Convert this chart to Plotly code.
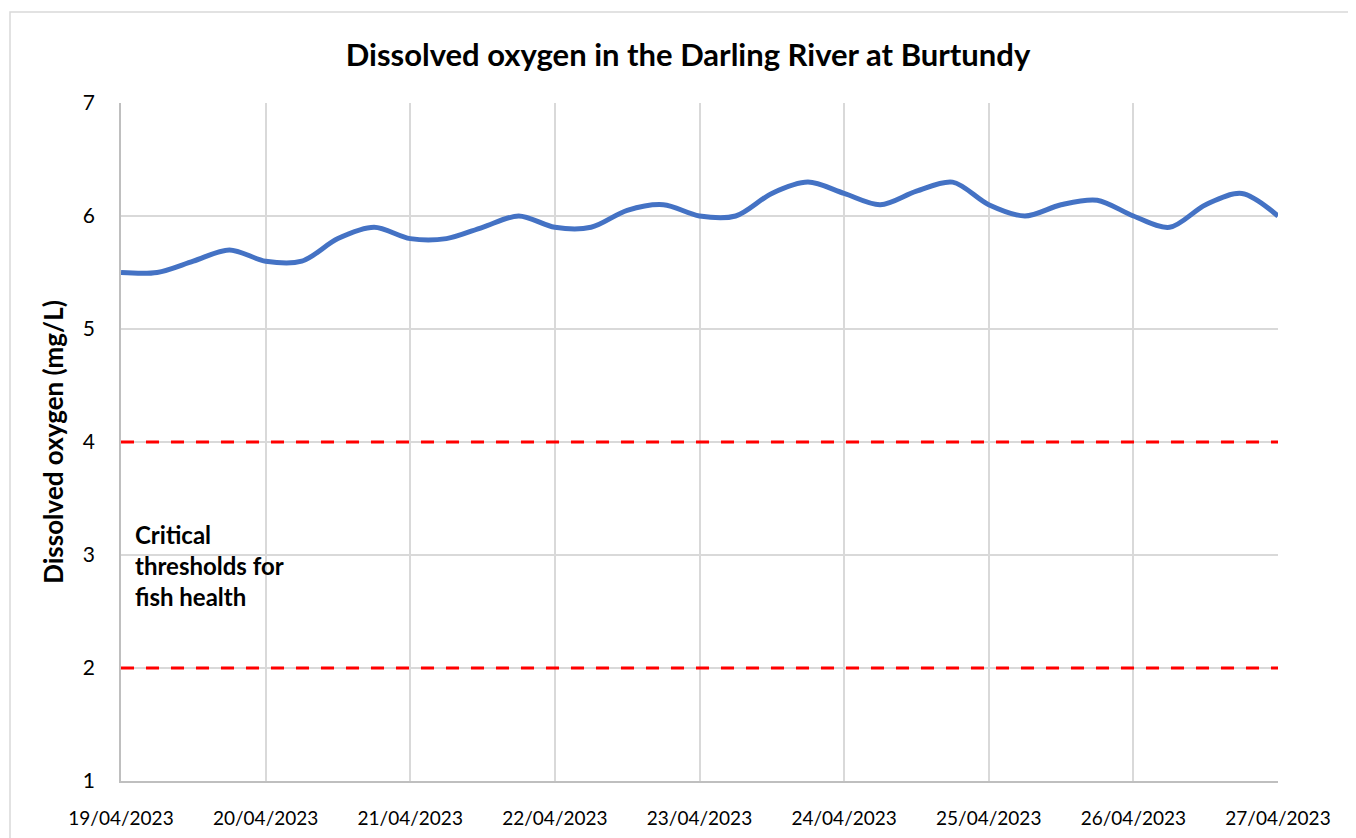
import pandas as pd
import plotly.graph_objects as go

# Data: dissolved oxygen readings every 6 hours
start_date = "2023-04-19"
n_points = 33
do_values = [5.50, 5.50, 5.60, 5.70, 5.60, 5.60, 5.80, 5.90, 5.80,
             5.80, 5.90, 6.00, 5.90, 5.90, 6.05, 6.10, 6.00, 6.00,
             6.20, 6.30, 6.20, 6.10, 6.22, 6.30, 6.10, 6.00, 6.10,
             6.14, 6.00, 5.90, 6.10, 6.20, 6.00]
thresholds = [4, 2]
title_text = "Dissolved oxygen in the Darling River at Burtundy"
y_title = "Dissolved oxygen (mg/L)"
note_text = "Critical<br>thresholds for<br>fish health"

times = pd.date_range(start_date, periods=n_points, freq="6h")
x_start = times[0]
x_end = times[-1]

O = 8  # browser default body margin
W, H = 1356 - O, 838 - O
L, T = 121 - O, 103 - O
pw, ph = 1157, 678
R = W - L - pw
B = H - T - ph

FONT = "Lato"

def px_to_paper_x(px):
    return (px - O - L) / pw

def px_to_paper_y(py):
    return (T + ph - (py - O)) / ph

fig = go.Figure()

for th in thresholds:
    fig.add_trace(go.Scatter(
        x=[x_start, x_end], y=[th, th], mode="lines",
        line=dict(color="#FF0000", width=3, dash="13px,12px"),
        hoverinfo="skip", showlegend=False))

fig.add_trace(go.Scatter(
    x=times, y=do_values, mode="lines",
    line=dict(color="#4472C4", width=5, shape="spline", smoothing=0.9),
    showlegend=False))

fig.add_shape(type="rect", xref="paper", yref="paper",
              x0=px_to_paper_x(10), x1=px_to_paper_x(1370),
              y0=px_to_paper_y(850), y1=px_to_paper_y(12),
              line=dict(color="#D9D9D9", width=1.5), layer="below")

fig.add_annotation(xref="paper", yref="paper",
                   x=px_to_paper_x(133), y=px_to_paper_y(518),
                   xanchor="left", yanchor="top", align="left",
                   text="<b>" + note_text + "</b>", showarrow=False,
                   font=dict(family=FONT, size=24, color="#000000"))

fig.update_layout(
    width=W, height=H,
    margin=dict(l=L, r=R, t=T, b=B, autoexpand=False),
    paper_bgcolor="white", plot_bgcolor="white",
    title=dict(text="<b>" + title_text + "</b>", x=(688 - O) / W, xref="container",
               xanchor="center", y=1 - (55 - O) / H, yanchor="middle",
               font=dict(family=FONT, size=31, color="#000000")),
    font=dict(family=FONT, color="#000000"),
)

fig.update_xaxes(
    range=[x_start, x_end], type="date",
    tickformat="%d/%m/%Y", dtick=86400000, tick0=x_start,
    showgrid=True, gridcolor="#D9D9D9", gridwidth=1.5,
    showline=True, linecolor="#BFBFBF", linewidth=1.5,
    ticks="", ticklabelstandoff=19, automargin=False,
    tickfont=dict(family=FONT, size=19, color="#000000"),
    zeroline=False,
)
fig.update_yaxes(
    range=[1, 7], dtick=1,
    showgrid=True, gridcolor="#D9D9D9", gridwidth=1.5,
    showline=True, linecolor="#BFBFBF", linewidth=1.5,
    ticks="", ticklabelstandoff=20, automargin=False,
    tickfont=dict(family=FONT, size=21, color="#000000"),
    title=dict(text="<b>" + y_title + "</b>", standoff=12,
               font=dict(family=FONT, size=26, color="#000000")),
    zeroline=False,
)

fig.write_html("out.html")
